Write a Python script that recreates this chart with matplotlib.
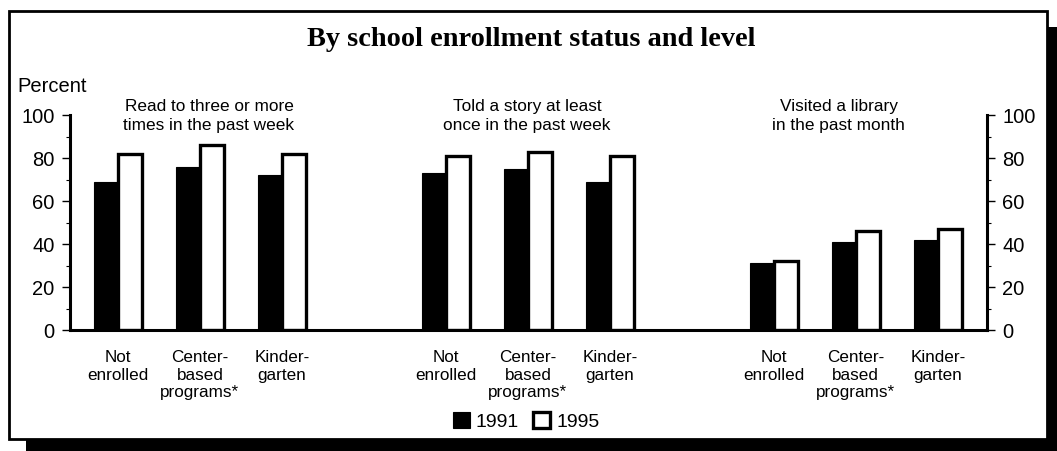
import matplotlib
matplotlib.use("Agg")
import matplotlib.pyplot as plt
from matplotlib.patches import Rectangle
from matplotlib.ticker import MultipleLocator

# ---- data ----
panel_titles = ["Read to three or more\ntimes in the past week",
                "Told a story at least\nonce in the past week",
                "Visited a library\nin the past month"]
categories = ["Not\nenrolled", "Center-\nbased\nprograms*", "Kinder-\ngarten"]
years = ["1991", "1995"]
read_1991 = [69, 76, 72]
read_1995 = [82, 86, 82]
story_1991 = [73, 75, 69]
story_1995 = [81, 83, 81]
library_1991 = [31, 41, 42]
library_1995 = [32, 46, 47]
yticks = [0, 20, 40, 60, 80, 100]

v1991 = read_1991 + story_1991 + library_1991
v1995 = read_1995 + story_1995 + library_1995

DPI = 100
W, H = 1057, 452
fig = plt.figure(figsize=(W / DPI, H / DPI), dpi=DPI)
plt.rcParams['font.family'] = ['Liberation Sans', 'DejaVu Sans']

def fx(px):
    return px / W

def fy(py):
    return 1 - py / H

ax = fig.add_axes([fx(70), fy(331), fx(987) - fx(70), fy(116) - fy(331)])
ax.patch.set_alpha(0)

pos = []
for g in range(3):
    for c in range(3):
        pos.append(g * 4 + c)
w = 0.29
xs1 = [p - w / 2 for p in pos]
xs2 = [p + w / 2 for p in pos]
b1 = ax.bar(xs1, v1991, width=w, color='black', edgecolor='black', linewidth=0.8, label=years[0])
b2 = ax.bar(xs2, v1995, width=w, color='white', edgecolor='black', linewidth=2.4, label=years[1])

ax.set_xlim(-0.585, 10.6)
ax.set_ylim(0, 100)

ax.spines['top'].set_visible(False)
for s in ['left', 'right', 'bottom']:
    ax.spines[s].set_linewidth(2.2)
    ax.spines[s].set_color('black')

ax.set_yticks(yticks)
ax.yaxis.set_minor_locator(MultipleLocator(10))
ax.tick_params(axis='y', which='major', direction='out', length=6, width=1.0,
               labelsize=14.5, left=True, right=True, labelleft=True, labelright=True, pad=5)
ax.tick_params(axis='y', which='minor', direction='out', length=3, width=0.8,
               left=True, right=True)

ax.set_xticks(pos)
ax.set_xticklabels(categories * 3, fontsize=12.3, linespacing=1.18, va='top')
ax.tick_params(axis='x', length=0, pad=14)

title_x = [1.11, 4.99, 8.79]
for tx, t in zip(title_x, panel_titles):
    ax.text(tx, 100, t, ha='center', va='center', fontsize=12.4, linespacing=1.3)

fig.text(fx(17), fy(87), "Percent", ha='left', va='center', fontsize=14.5)
fig.text(fx(531), fy(46), "By school enrollment status and level", ha='center', va='baseline',
         fontsize=20.4, fontweight='bold', family=['Liberation Serif', 'DejaVu Serif'])

leg = fig.legend(handles=[b1, b2], labels=years, loc='center', bbox_to_anchor=(fx(526), fy(422)),
                 ncol=2, frameon=False, fontsize=14, handlelength=0.9, handleheight=0.9,
                 handletextpad=0.3, columnspacing=0.7, borderpad=0, borderaxespad=0)

# frame with shadow
fig.patches.append(Rectangle((fx(1047), fy(452)), fx(1057) - fx(1047), fy(28) - fy(452),
                             transform=fig.transFigure, facecolor='black', edgecolor='none', zorder=0))
fig.patches.append(Rectangle((fx(26), fy(452)), fx(1057) - fx(26), fy(440) - fy(452),
                             transform=fig.transFigure, facecolor='black', edgecolor='none', zorder=0))
fig.patches.append(Rectangle((fx(9), fy(440)), fx(1047) - fx(9), fy(12) - fy(440),
                             transform=fig.transFigure, facecolor='none', edgecolor='black',
                             linewidth=2.0, zorder=0))

fig.savefig("out.png", dpi=DPI)
